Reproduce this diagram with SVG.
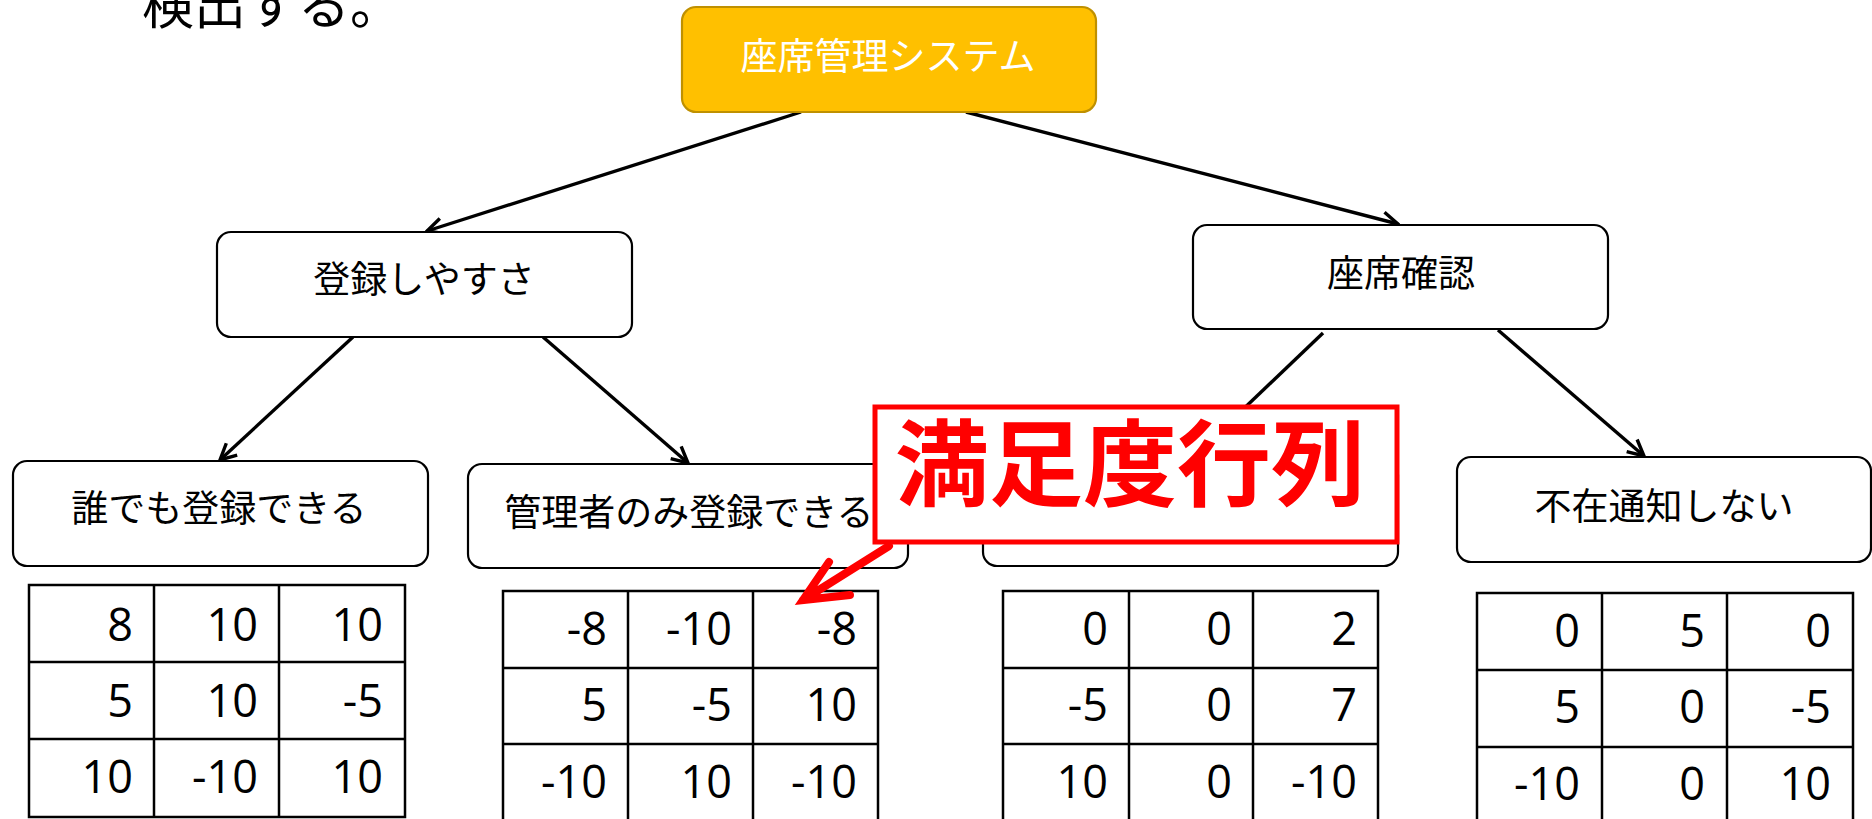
<svg xmlns="http://www.w3.org/2000/svg" width="1872" height="819" viewBox="0 0 1872 819">
<style>
.node rect{fill:#fff;stroke:#000;stroke-width:2.2}
.lbl{font-family:"Noto Sans CJK JP","Noto Sans",sans-serif;font-size:37px;fill:#000;text-anchor:middle}
.conn line{stroke:#000;stroke-width:3.4}
.tbl line,.tbl rect{stroke:#000;stroke-width:2.5;fill:none}
.num{font-family:"Open Sans","Liberation Sans",sans-serif;font-size:45px;fill:#000;text-anchor:end}
</style>
<defs>
<marker id="arr" markerUnits="userSpaceOnUse" viewBox="0 0 22 22" refX="20" refY="11" markerWidth="22" markerHeight="22" orient="auto">
<path d="M4,3 L20,11 L4,19" fill="none" stroke="#000" stroke-width="3.4"/>
</marker>
</defs>
<rect width="1872" height="819" fill="#fff"/>
<text x="142" y="24" style="font-family:'Noto Sans CJK JP',sans-serif;font-size:52px;font-weight:normal;fill:#000">検出する。</text>

<g class="conn">
<line x1="801" y1="112" x2="427" y2="231" marker-end="url(#arr)"/>
<line x1="966" y1="112" x2="1398" y2="224" marker-end="url(#arr)"/>
<line x1="353" y1="337" x2="220" y2="460" marker-end="url(#arr)"/>
<line x1="543" y1="337" x2="688" y2="463" marker-end="url(#arr)"/>
<line x1="1323" y1="333" x2="1190" y2="460" marker-end="url(#arr)"/>
<line x1="1498" y1="330" x2="1644" y2="456" marker-end="url(#arr)"/>
</g>

<g id="root">
<rect x="682" y="7" width="414" height="105" rx="14" fill="#FFC000" stroke="#BF9000" stroke-width="2.2"/>
<text class="lbl" x="888" y="70" style="fill:#fff">座席管理システム</text>
</g>
<g id="n-touroku" class="node">
<rect x="217" y="232" width="415" height="105" rx="14"/>
<text class="lbl" x="424" y="293">登録しやすさ</text>
</g>
<g id="n-kakunin" class="node">
<rect x="1193" y="225" width="415" height="104" rx="14"/>
<text class="lbl" x="1401" y="287">座席確認</text>
</g>
<g id="n-daredemo" class="node">
<rect x="13" y="461" width="415" height="105" rx="14"/>
<text class="lbl" x="219" y="522">誰でも登録できる</text>
</g>
<g id="n-kanrisha" class="node">
<rect x="468" y="464" width="440" height="104" rx="14"/>
<text class="lbl" x="689" y="526">管理者のみ登録できる</text>
</g>
<g id="n-third" class="node">
<rect x="983" y="461" width="415" height="105" rx="14"/>
</g>
<g id="n-fuzai" class="node">
<rect x="1457" y="457" width="414" height="105" rx="14"/>
<text class="lbl" x="1664" y="520">不在通知しない</text>
</g>

<g id="table1" class="tbl">
<rect x="29" y="585" width="376" height="232"/>
<line x1="154" y1="585" x2="154" y2="817"/><line x1="279" y1="585" x2="279" y2="817"/>
<line x1="29" y1="662" x2="405" y2="662"/><line x1="29" y1="739" x2="405" y2="739"/>
<text class="num" x="133" y="641">8</text><text class="num" x="258" y="641">10</text><text class="num" x="383" y="641">10</text>
<text class="num" x="133" y="717">5</text><text class="num" x="258" y="717">10</text><text class="num" x="383" y="717">-5</text>
<text class="num" x="133" y="793">10</text><text class="num" x="258" y="793">-10</text><text class="num" x="383" y="793">10</text>
</g>
<g id="table2" class="tbl">
<rect x="503" y="591" width="375" height="240"/>
<line x1="628" y1="591" x2="628" y2="831"/><line x1="753" y1="591" x2="753" y2="831"/>
<line x1="503" y1="668" x2="878" y2="668"/><line x1="503" y1="744" x2="878" y2="744"/>
<text class="num" x="607" y="645">-8</text><text class="num" x="732" y="645">-10</text><text class="num" x="857" y="645">-8</text>
<text class="num" x="607" y="721">5</text><text class="num" x="732" y="721">-5</text><text class="num" x="857" y="721">10</text>
<text class="num" x="607" y="798">-10</text><text class="num" x="732" y="798">10</text><text class="num" x="857" y="798">-10</text>
</g>
<g id="table3" class="tbl">
<rect x="1003" y="591" width="375" height="240"/>
<line x1="1129" y1="591" x2="1129" y2="831"/><line x1="1253" y1="591" x2="1253" y2="831"/>
<line x1="1003" y1="668" x2="1378" y2="668"/><line x1="1003" y1="744" x2="1378" y2="744"/>
<text class="num" x="1108" y="645">0</text><text class="num" x="1232" y="645">0</text><text class="num" x="1357" y="645">2</text>
<text class="num" x="1108" y="721">-5</text><text class="num" x="1232" y="721">0</text><text class="num" x="1357" y="721">7</text>
<text class="num" x="1108" y="798">10</text><text class="num" x="1232" y="798">0</text><text class="num" x="1357" y="798">-10</text>
</g>
<g id="table4" class="tbl">
<rect x="1477" y="593" width="376" height="240"/>
<line x1="1602" y1="593" x2="1602" y2="833"/><line x1="1727" y1="593" x2="1727" y2="833"/>
<line x1="1477" y1="670" x2="1853" y2="670"/><line x1="1477" y1="747" x2="1853" y2="747"/>
<text class="num" x="1580" y="647">0</text><text class="num" x="1705" y="647">5</text><text class="num" x="1831" y="647">0</text>
<text class="num" x="1580" y="723">5</text><text class="num" x="1705" y="723">0</text><text class="num" x="1831" y="723">-5</text>
<text class="num" x="1580" y="800">-10</text><text class="num" x="1705" y="800">0</text><text class="num" x="1831" y="800">10</text>
</g>

<g id="callout">
<rect x="875" y="407" width="522" height="135" fill="#fff" stroke="#FF0000" stroke-width="5"/>
<text x="1130" y="499" style="font-family:'Noto Sans CJK JP',sans-serif;font-size:94px;font-weight:bold;fill:#FF0000;text-anchor:middle">満足度行列</text>
<path d="M889,546 L803,600 M850,595 L803,600 L829,562" fill="none" stroke="#FF0000" stroke-width="8" stroke-linecap="round" stroke-linejoin="miter"/>
</g>
</svg>
